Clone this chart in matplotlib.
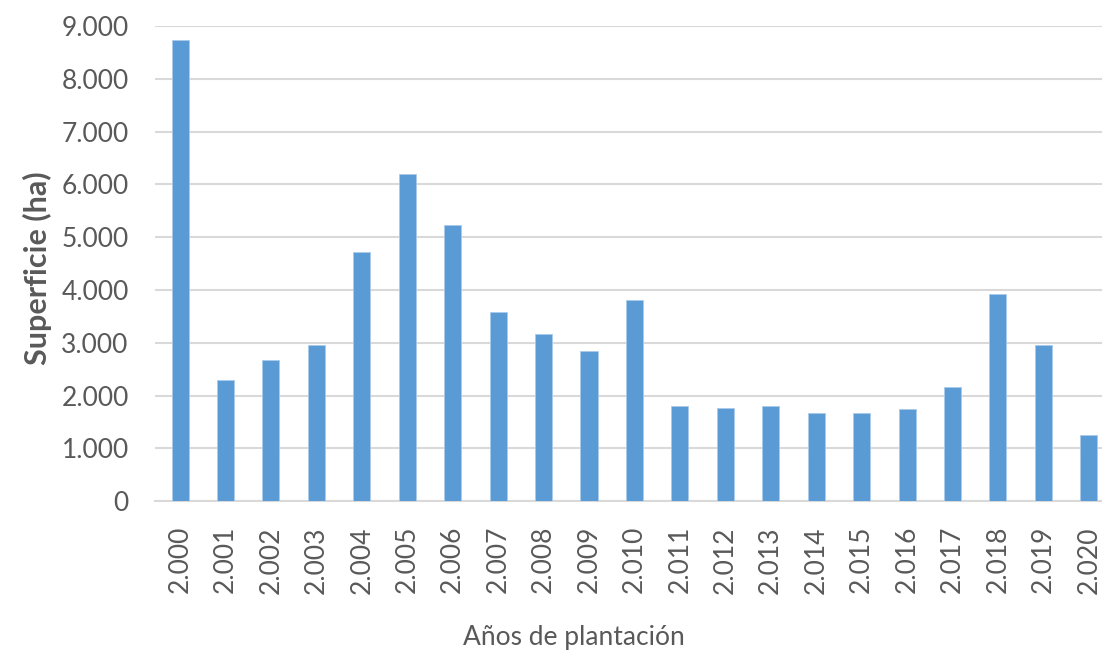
import matplotlib
matplotlib.use('Agg')
import matplotlib.pyplot as plt
import numpy as np

# Datos
years = ['2.000', '2.001', '2.002', '2.003', '2.004', '2.005', '2.006', '2.007',
         '2.008', '2.009', '2.010', '2.011', '2.012', '2.013', '2.014', '2.015',
         '2.016', '2.017', '2.018', '2.019', '2.020']
surface = [8730, 2300, 2680, 2950, 4720, 6200, 5235, 3575, 3160, 2850, 3815,
           1810, 1770, 1810, 1670, 1670, 1740, 2155, 3920, 2955, 1260]
yticks = [0, 1000, 2000, 3000, 4000, 5000, 6000, 7000, 8000, 9000]
ytick_labels = ['0', '1.000', '2.000', '3.000', '4.000', '5.000', '6.000',
                '7.000', '8.000', '9.000']

plt.rcParams['font.family'] = ['Lato', 'DejaVu Sans']
grey = '#595959'

fig = plt.figure(figsize=(11.02, 6.55), dpi=100)
ax = fig.add_axes([0.1407, 0.235, 0.870, 0.725])

x = np.arange(len(years))
ax.bar(x, surface, width=0.375, color='#5B9BD5', edgecolor='#A9CBEA',
       linewidth=0.6, zorder=3)

ax.set_ylim(0, 9000)
ax.set_xlim(-0.55, len(years) - 0.45)
ax.set_yticks(yticks)
ax.set_yticklabels(ytick_labels)
ax.set_xticks(x)
ax.set_xticklabels(years, rotation=90)
ax.yaxis.grid(True, color='#D9D9D9', linewidth=1.5, zorder=0)
ax.tick_params(axis='both', length=0, labelsize=19, colors=grey)
ax.tick_params(axis='y', pad=19)
ax.tick_params(axis='x', pad=18)
for side in ['top', 'right', 'left']:
    ax.spines[side].set_visible(False)
ax.spines['bottom'].set_color('#D9D9D9')
ax.spines['bottom'].set_linewidth(1.5)

ax.set_ylabel('Superficie (ha)', fontsize=22, fontweight='bold', color=grey)
ax.yaxis.set_label_coords(-0.107, 0.49)
fig.text(574 / 1102, 1 - 638 / 655, 'Años de plantación', fontsize=19,
         color=grey, ha='center', va='center')

fig.savefig('out.png', dpi=100)
